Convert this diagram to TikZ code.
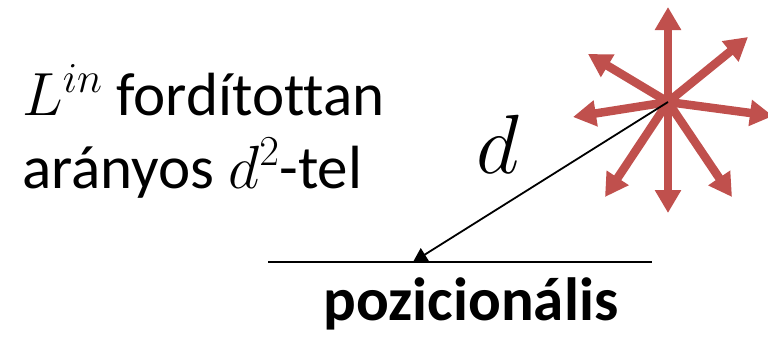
\RequirePackage{fix-cm}
\documentclass[tikz,border=0pt]{standalone}
\usepackage{fontspec}
\setmainfont{Carlito}[Ligatures=NoCommon]
\usetikzlibrary{arrows.meta}
\definecolor{starred}{RGB}{192,80,77}
\begin{document}
\begin{tikzpicture}[x=1pt,y=-1pt,
  ray/.style={draw=starred,line width=8.5pt,-{Triangle[length=23pt,width=25pt]}},
  txt/.style={inner sep=0pt,font=\fontsize{61}{70}\selectfont},
  conn/.style={draw=black,line width=1.8pt,-{Triangle[length=14pt,width=15pt]}}]
\useasboundingbox (0,0) rectangle (768,340);
\coordinate (c) at (668,102);
\coordinate (e1) at (668,7);
\coordinate (e2) at (748,37);
\coordinate (e3) at (773,116);
\coordinate (e4) at (732,197);
\coordinate (e5) at (668,213);
\coordinate (e6) at (605,197);
\coordinate (e7) at (573,117);
\coordinate (e8) at (588,54);
\foreach \i in {1,...,8} {\draw[ray] (c) -- (e\i);}
\coordinate (hl) at (268,262);
\coordinate (hr) at (652,262);
\coordinate (tip) at (413,262);
\draw[line width=2pt] (hl) -- (hr);
\draw[conn] (c) -- (tip);
\node[txt,anchor=base west] (l1) at (22,115) {$L^{in}$ fordítottan};
\node[txt,anchor=base west] (l2) at (22,188) {arányos $d^2$-tel};
\node[txt,anchor=base] (pos) at (471,320) {\bfseries pozicionális};
\node[inner sep=0pt,anchor=base,font=\fontsize{84}{90}\selectfont] (d) at (498,173) {$d$};
\end{tikzpicture}
\end{document}
